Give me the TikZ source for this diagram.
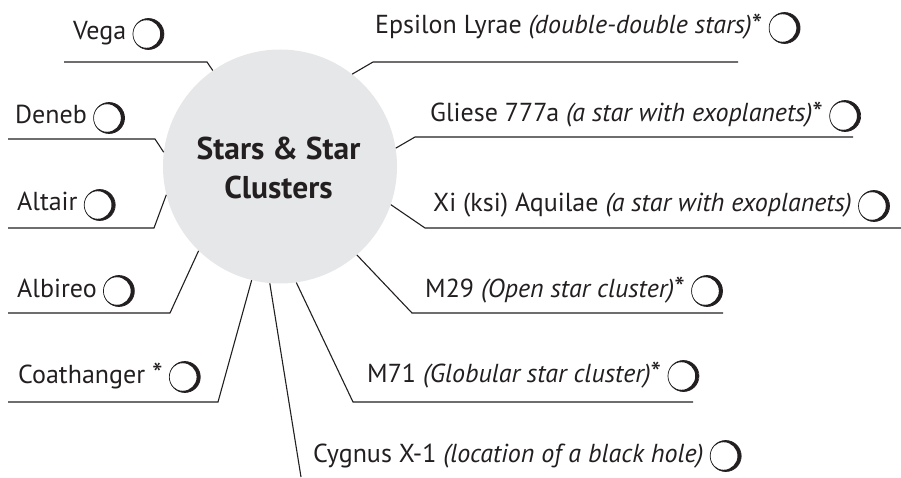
\documentclass[tikz,border=0pt]{standalone}
\usepackage{fontspec}
\setmainfont{PT Sans}
\definecolor{ink}{HTML}{231F20}
\definecolor{disc}{HTML}{E6E7E8}
% a larger, slightly lowered asterisk
\newcommand\starmark{{\fontsize{30}{30}\selectfont\raisebox{-1.5pt}{*}}}
\begin{document}
\begin{tikzpicture}[x=1pt,y=-1pt,
  lead/.style={draw=ink, line width=1.1pt},
  entry/.style={anchor=base west, inner sep=0pt, text=ink,
    font=\fontsize{26}{29}\selectfont},
  moon/.style={circle, minimum size=31pt, inner sep=0pt, draw=ink,
    line width=0.7pt,
    path picture={\fill[ink, even odd rule]
      (path picture bounding box.center) circle (15.5pt)
      ([xshift=-2pt]path picture bounding box.center) circle (13.8pt);}},
]
\useasboundingbox (0,0) rectangle (901,478);

% central disc
\node[circle, fill=disc, minimum size=234pt, inner sep=0pt] (hub) at (280,166.5) {};
\node[text=ink, align=center, font=\bfseries\fontsize{31.5}{39}\selectfont]
  (title) at (278.5,168) {Stars \& Star\\Clusters};

% labels
\newcommand\tick[1]{\node[moon] (#1m) at ([xshift=22pt,yshift=6pt]#1.base east) {};}
\node[entry] (vega) at (73,40) {Vega};
\node[entry] (deneb) at (15,124) {Deneb};
\node[entry] (altair) at (17,211) {Altair};
\node[entry] (albireo) at (17,297) {Albireo};
\node[entry] (coat) at (18,383) {Coathanger \starmark};
\node[entry] (cyg) at (313,462) {Cygnus X-1 \textit{(location of a black hole)}};
\node[entry] (m71) at (367,382) {M71 \textit{(Globular star cluster)}\starmark};
\node[entry] (m29) at (425,297) {M29 \textit{(Open star cluster)}\starmark};
\node[entry] (xi) at (433,212) {Xi (ksi) Aquilae \textit{(a star with exoplanets)}};
\node[entry] (gl) at (430,122) {Gliese 777a \textit{(a star with exoplanets)}\starmark};
\node[entry] (eps) at (375,34) {Epsilon Lyrae \textit{(double-double stars)}\starmark};
\foreach \n in {vega,deneb,altair,albireo,coat,cyg,m71,m29,xi,gl,eps} {\tick{\n}}

% leader corners and ends
\coordinate (vegaK) at (207,62);   \coordinate (vegaE) at (64,62);
\coordinate (denebK) at (155,139); \coordinate (denebE) at (8,139);
\coordinate (altairK) at (154,228);\coordinate (altairE) at (8,228);
\coordinate (albK) at (170,313);   \coordinate (albE) at (8,313);
\coordinate (coatK) at (218,402);  \coordinate (coatE) at (8,402);
\coordinate (cygE) at (301,477);
\coordinate (m71K) at (353,402);   \coordinate (m71E) at (693,402);
\coordinate (m29K) at (412,313);   \coordinate (m29E) at (723,313);
\coordinate (xiK) at (425,228);    \coordinate (xiE) at (901,228);
\coordinate (glK) at (415,137);    \coordinate (glE) at (853,137);
\coordinate (epsK) at (373,62);    \coordinate (epsE) at (738,62);

\draw[lead] (hub.125) -- (vegaK) -- (vegaE);
\draw[lead] (hub.173) -- (denebK) -- (denebE);
\draw[lead] (hub.194) -- (altairK) -- (altairE);
\draw[lead] (hub.226) -- (albK) -- (albE);
\draw[lead] (hub.256.6) -- (coatK) -- (coatE);
\draw[lead] (hub.265.6) -- (cygE);
\draw[lead] (hub.278) -- (m71K) -- (m71E);
\draw[lead] (hub.311) -- (m29K) -- (m29E);
\draw[lead] (hub.341.8) -- (xiK) -- (xiE);
\draw[lead] (hub.9.5) -- (glK) -- (glE);
\draw[lead] (hub.52.4) -- (epsK) -- (epsE);
\end{tikzpicture}
\end{document}
